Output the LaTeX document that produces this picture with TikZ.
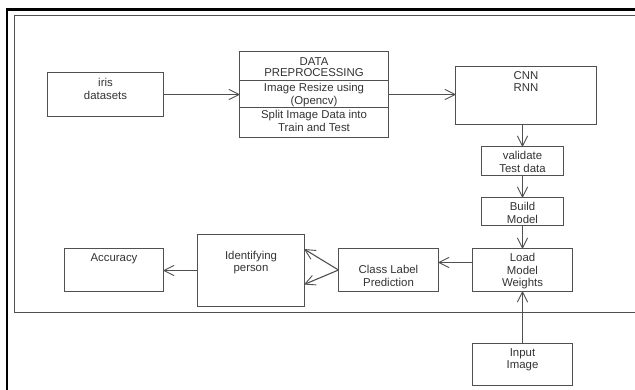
\documentclass[tikz,border=0pt]{standalone}
\usepackage{fontspec}
\setmainfont{Liberation Sans}
\usetikzlibrary{arrows.meta,calc}
\definecolor{edge}{HTML}{505050}
\definecolor{ink}{HTML}{333333}
\begin{document}
\begin{tikzpicture}[x=1pt,y=-1pt,
  box/.style={draw=edge,line width=1.1pt,anchor=north west,inner sep=0pt,outer sep=0pt},
  txt/.style={anchor=north,inner sep=0pt,align=center,text=ink,
    font=\fontsize{11.4}{11.7}\selectfont},
  flow/.style={draw=edge,line width=1.1pt,
    -{Straight Barb[length=10pt,width=10pt,line width=0.9pt,round]}}]
\useasboundingbox (0,0) rectangle (635,389);
\fill[white] (0,0) rectangle (635,389);

% frames
\draw[black,line width=2.7pt] (640,9.7) -- (7,9.7) -- (7,395);
\draw[edge,line width=1.2pt] (640,15.5) -- (14.5,15.5) -- (14.5,312.5) -- (640,312.5);

% boxes
\node[box,minimum width=116pt,minimum height=44pt] (iris) at (47.5,72.5) {};
\node[box,minimum width=149pt,minimum height=86pt] (dp) at (239.5,51.5) {};
\node[box,minimum width=141pt,minimum height=58pt] (cnn) at (455.5,66.5) {};
\node[box,minimum width=82pt,minimum height=29pt] (val) at (481.5,146.5) {};
\node[box,minimum width=82pt,minimum height=28pt] (build) at (481.5,197.5) {};
\node[box,minimum width=100pt,minimum height=43pt] (load) at (472.5,248.5) {};
\node[box,minimum width=100pt,minimum height=43pt] (cls) at (338.5,248.5) {};
\node[box,minimum width=107pt,minimum height=72pt] (ident) at (197.5,234.5) {};
\node[box,minimum width=99pt,minimum height=43pt] (acc) at (64.5,248.5) {};
\node[box,minimum width=100pt,minimum height=42pt] (input) at (472.5,343.5) {};

% preprocessing compartments
\draw[edge,line width=1.1pt] (dp.west |- 0,80.5) -- (dp.east |- 0,80.5);
\draw[edge,line width=1.1pt] (dp.west |- 0,107.5) -- (dp.east |- 0,107.5);

% labels
\node[txt] (iris-t) at ([yshift=-5.3pt]iris.north) {\strut iris\\datasets};
\node[txt] (dp-t1) at ([yshift=-5.2pt]dp.north) {\strut DATA\\PREPROCESSING};
\node[txt] (dp-t2) at (dp.north |- 0,83.3) {\strut Image Resize using\\(Opencv)};
\node[txt] (dp-t3) at (dp.north |- 0,110.3) {\strut Split Image Data into\\Train and Test};
\node[txt] (cnn-t) at ([yshift=-4.8pt]cnn.north) {\strut CNN\\RNN};
\node[txt] (val-t) at ([yshift=-4.8pt]val.north) {\strut validate\\Test data};
\node[txt] (build-t) at ([yshift=-4.8pt]build.north) {\strut Build\\Model};
\node[txt] (load-t) at ([yshift=-5pt]load.north) {\strut Load\\Model\\Weights};
\node[txt] (cls-t) at ([yshift=-17pt]cls.north) {\strut Class Label\\Prediction};
\node[txt] (ident-t) at ([yshift=-16.8pt]ident.north) {\strut Identifying\\person};
\node[txt] (acc-t) at ([yshift=-5pt]acc.north) {\strut Accuracy};
\node[txt] (input-t) at ([yshift=-5pt]input.north) {\strut Input\\Image};

% connectors
\coordinate (loadout) at ($(load.north west)!0.3256!(load.south west)$);
\coordinate (idin1) at ($(ident.north east)!0.2056!(ident.south east)$);
\coordinate (idin2) at ($(ident.north east)!0.6917!(ident.south east)$);
\draw[flow] (iris.east) -- (iris.east -| dp.west);
\draw[flow] (dp.east) -- (dp.east -| cnn.west);
\draw[flow] (val.north |- cnn.south) -- (val.north);
\draw[flow] (val.south) -- (build.north);
\draw[flow] (build.south) -- (build.south |- load.north);
\draw[flow] (loadout) -- (loadout -| cls.east);
\draw[flow] (cls.west) -- (idin1);
\draw[flow] (cls.west) -- (idin2);
\draw[flow] (ident.west) -- (ident.west -| acc.east);
\draw[flow] (load.south |- input.north) -- (load.south);
\end{tikzpicture}
\end{document}
